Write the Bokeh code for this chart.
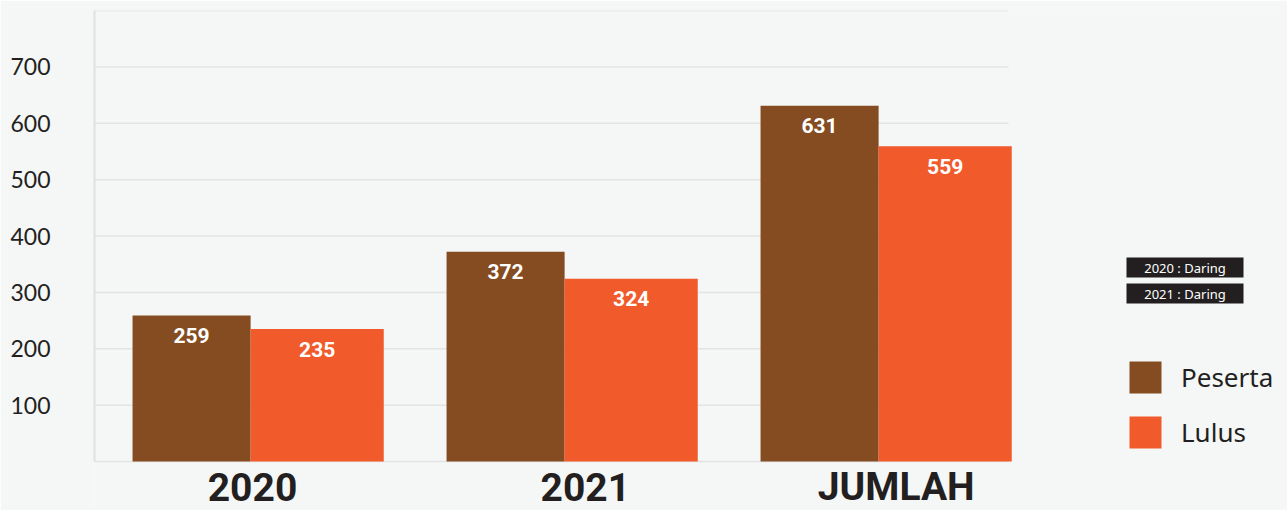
from bokeh.plotting import figure
from bokeh.models import ColumnDataSource, Range1d, FixedTicker, Legend, LegendItem
from bokeh.core.properties import value
from bokeh.embed import file_html
from bokeh.resources import INLINE

# ---- data ----
categories = ["2020", "2021", "JUMLAH"]
peserta = [259, 372, 631]
lulus = [235, 324, 559]
series_names = ["Peserta", "Lulus"]
y_ticks = [100, 200, 300, 400, 500, 600, 700]
notes = ["2020 : Daring", "2021 : Daring"]

# ---- layout (page pixels of the reference) ----
W, H = 1287, 510
PAGE = 0
FR_L, FR_T, FR_B, CANVAS_R, CANVAS_B = 94, 10, 461, 1287, 510
GRID_R = 1008
GROUP_X0, GROUP_STEP = 252, 314
Y_MAX = 800
PX_PER_UNIT = (FR_B - FR_T) / Y_MAX


def xd(px):
    return (px - GROUP_X0) / GROUP_STEP


def yd(py):
    return (FR_B - py) / PX_PER_UNIT


BROWN = "#844c20"
ORANGE = "#f15a2b"
DARK = "#231f20"
BG = "#f5f6f6"
GRID = "#e3e3e3"

p = figure(width=W, height=H, output_backend="svg", toolbar_location=None,
           x_range=Range1d(xd(FR_L), xd(CANVAS_R)),
           y_range=Range1d(yd(CANVAS_B), Y_MAX),
           min_border_left=FR_L - PAGE, min_border_top=FR_T - PAGE,
           min_border_bottom=0, min_border_right=0)
p.background_fill_color = BG
p.border_fill_color = BG
p.outline_line_color = None
p.xgrid.visible = False
p.ygrid.visible = False
p.xaxis.visible = False

ya = p.yaxis[0]
ya.ticker = FixedTicker(ticks=y_ticks)
ya.bounds = (0, Y_MAX)
ya.axis_line_color = "#e0e0e0"
ya.axis_line_width = 2
ya.major_tick_line_color = None
ya.minor_tick_line_color = None
ya.major_tick_out = 0
ya.major_tick_in = 0
ya.major_label_standoff = 44
ya.major_label_text_font = "Lato"
ya.major_label_text_font_size = "23px"
ya.major_label_text_color = DARK

# grid lines (incl. baseline and top border)
grid_vals = [0] + y_ticks + [Y_MAX]
p.segment(x0=[xd(FR_L)] * len(grid_vals), x1=[xd(GRID_R)] * len(grid_vals),
          y0=grid_vals, y1=grid_vals, line_color=GRID, line_width=1.5)

# bars
P_OFF, P_W = -0.194, 0.376
L_OFF, L_W = 0.206, 0.424
idx = list(range(len(categories)))
src_p = ColumnDataSource(dict(x=[i + P_OFF for i in idx], top=peserta,
                              ly=[v - 20 / PX_PER_UNIT for v in peserta],
                              txt=[str(v) for v in peserta]))
src_l = ColumnDataSource(dict(x=[i + L_OFF for i in idx], top=lulus,
                              ly=[v - 20 / PX_PER_UNIT for v in lulus],
                              txt=[str(v) for v in lulus]))
rp = p.vbar(x="x", top="top", bottom=0, width=P_W, source=src_p,
            fill_color=BROWN, line_color=None)
rl = p.vbar(x="x", top="top", bottom=0, width=L_W, source=src_l,
            fill_color=ORANGE, line_color=None)

for s in (src_p, src_l):
    p.text(x="x", y="ly", text="txt", source=s, text_color="white",
           text_font=value("Roboto"), text_font_style="bold",
           text_font_size="21px", text_align="center", text_baseline="middle")

# category labels
cat_shift = [0.0, 0.06, 0.05]
p.text(x=[i + s for i, s in zip(idx, cat_shift)], y=[yd(486)] * len(categories),
       text=categories, text_color=DARK, text_font=value("Roboto"),
       text_font_style="bold", text_font_size="39px",
       text_align="center", text_baseline="middle")

# note boxes
note_tops = [257, 283]
p.quad(left=[xd(1126)] * 2, right=[xd(1243)] * 2,
       top=[yd(t) for t in note_tops], bottom=[yd(t + 20) for t in note_tops],
       fill_color=DARK, line_color=None)
p.text(x=[xd(1184.5)] * 2, y=[yd(t + 10) for t in note_tops], text=notes,
       text_color="white", text_font=value("Noto Sans"), text_font_size="13px",
       text_align="center", text_baseline="middle")

# legend
legend = Legend(items=[LegendItem(label=series_names[0], renderers=[rp]),
                       LegendItem(label=series_names[1], renderers=[rl])],
                location=(1125 - FR_L, CANVAS_B - 452))
legend.glyph_width = 40
legend.glyph_height = 40
legend.spacing = 15
legend.padding = 0
legend.margin = 0
legend.label_standoff = 16
legend.label_text_font = "Noto Sans"
legend.label_text_font_size = "26px"
legend.label_text_color = DARK
legend.border_line_color = None
legend.background_fill_alpha = 0
legend.label_height = 40
p.add_layout(legend)

open("out.html", "w").write(file_html(p, INLINE))
